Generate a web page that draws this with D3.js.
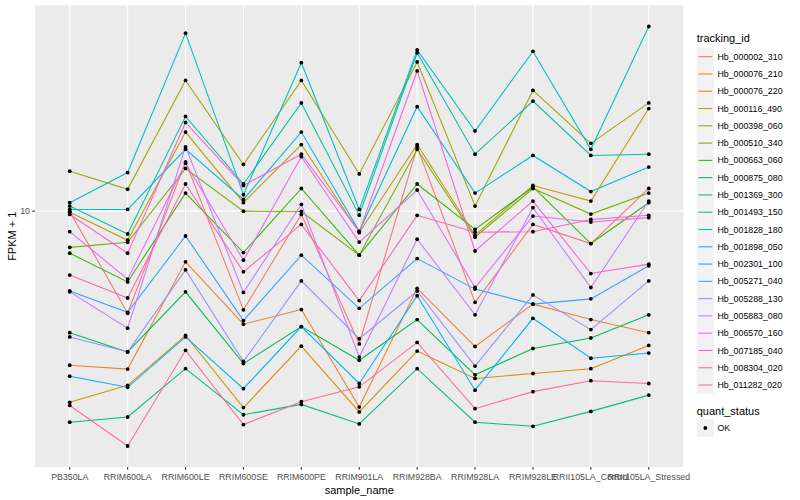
<!DOCTYPE html>
<html>
<head>
<meta charset="utf-8">
<script src="https://cdn.jsdelivr.net/npm/d3@7/dist/d3.min.js"></script>
<style>
  body { margin: 0; background: #ffffff; }
  text { font-family: "Liberation Sans", Arial, sans-serif; }
</style>
</head>
<body>
<svg id="chart" width="800" height="500"></svg>
<script>
/// samples on the x axis
var sampleNames = ["PB350LA", "RRIM600LA", "RRIM600LE", "RRIM600SE", "RRIM600PE",
                   "RRIM901LA", "RRIM928BA", "RRIM928LA", "RRIM928LE",
                   "RRII105LA_Control", "RRII105LA_Stressed"];

/// tracking ids, legend order
var trackingIds = ["Hb_000002_310", "Hb_000076_210", "Hb_000076_220", "Hb_000116_490",
                   "Hb_000398_060", "Hb_000510_340", "Hb_000663_060", "Hb_000875_080",
                   "Hb_001369_300", "Hb_001493_150", "Hb_001828_180", "Hb_001898_050",
                   "Hb_002301_100", "Hb_005271_040", "Hb_005288_130", "Hb_005883_080",
                   "Hb_006570_160", "Hb_007185_040", "Hb_008304_020", "Hb_011282_020"];

/// FPKM + 1 for every sample
var hb_000002_310 = [9.98, 5.54, 13.3, 5.65, 9.81, 4.64, 14.5, 5.90, 9.26, 8.29, 11.4];
var hb_000076_210 = [4.10, 4.01, 7.46, 5.20, 5.66, 3.22, 6.40, 4.57, 5.84, 5.34, 4.95];
var hb_000076_220 = [3.31, 3.65, 4.87, 3.21, 4.58, 3.13, 4.45, 3.80, 3.91, 4.02, 4.60];
var hb_000116_490 = [9.93, 8.45, 15.8, 10.5, 14.7, 8.83, 14.7, 8.70, 11.6, 10.6, 18.1];
var hb_000398_060 = [12.6, 11.35, 21.3, 13.1, 21.3, 12.4, 23.7, 10.3, 20.1, 14.8, 18.7];
var hb_000510_340 = [8.11, 8.35, 12.8, 10.0, 9.98, 7.75, 14.3, 8.60, 11.4, 9.83, 11.1];
var hb_000663_060 = [7.84, 6.64, 11.1, 7.87, 11.4, 7.75, 11.7, 9.00, 11.5, 8.29, 10.5];
var hb_000875_080 = [4.95, 4.43, 6.27, 4.14, 5.13, 4.22, 5.34, 3.88, 4.52, 4.80, 5.49];
var hb_001369_300 = [2.95, 3.04, 4.02, 3.08, 3.27, 2.92, 4.02, 2.95, 2.88, 3.14, 3.45];
var hb_001493_150 = [10.3, 8.76, 17.3, 11.7, 18.7, 9.77, 25.0, 13.9, 18.9, 13.8, 13.9];
var hb_001828_180 = [10.5, 12.5, 28.0, 11.0, 23.6, 10.1, 25.4, 15.9, 25.2, 14.3, 29.1];
var hb_001898_050 = [10.1, 10.1, 14.3, 10.7, 15.8, 8.90, 18.3, 11.1, 13.8, 11.2, 12.9];
var hb_002301_100 = [3.85, 3.61, 4.83, 3.58, 5.13, 3.69, 6.13, 3.55, 5.38, 4.27, 4.40];
var hb_005271_040 = [6.30, 5.57, 8.66, 5.31, 7.75, 5.70, 7.60, 6.37, 5.84, 6.02, 7.29];
var hb_005288_130 = [4.83, 4.43, 7.12, 4.19, 6.68, 4.78, 6.30, 4.08, 6.16, 5.04, 6.68];
var hb_005883_080 = [6.27, 5.08, 14.5, 6.25, 10.4, 4.30, 8.50, 5.49, 10.2, 6.43, 10.6];
var hb_006570_160 = [8.88, 6.75, 13.2, 7.53, 13.7, 8.36, 11.3, 6.43, 9.72, 9.39, 9.63];
var hb_007185_040 = [9.81, 7.84, 16.7, 11.6, 13.9, 8.88, 22.5, 7.94, 10.6, 6.97, 7.36];
var hb_008304_020 = [6.91, 6.05, 11.7, 7.04, 9.26, 5.96, 9.76, 8.85, 8.88, 9.53, 9.76];
var hb_011282_020 = [3.25, 2.57, 4.47, 2.91, 3.32, 3.62, 4.68, 3.19, 3.52, 3.75, 3.69];

var seriesValues = [hb_000002_310, hb_000076_210, hb_000076_220, hb_000116_490,
                    hb_000398_060, hb_000510_340, hb_000663_060, hb_000875_080,
                    hb_001369_300, hb_001493_150, hb_001828_180, hb_001898_050,
                    hb_002301_100, hb_005271_040, hb_005288_130, hb_005883_080,
                    hb_006570_160, hb_007185_040, hb_008304_020, hb_011282_020];

var yTicks = [10];
var quantStatus = ["OK"];

/// ggplot default hue palette, 20 levels
var palette = ["#F8766D", "#EA8331", "#D89000", "#C09B00", "#A3A500", "#7CAE00",
               "#39B600", "#00BB4E", "#00BF7D", "#00C1A3", "#00BFC4", "#00BAE0",
               "#00B0F6", "#35A2FF", "#9590FF", "#C77CFF", "#E76BF3", "#FA62DB",
               "#FF62BC", "#FF6C91"];

/// build long table
var series = trackingIds.map((id, i) => ({
  id: id,
  color: palette[i],
  values: sampleNames.map((s, j) => ({sample: s, value: seriesValues[i][j]}))
}));
var allValues = d3.merge(seriesValues);

/// panel dimensions
var panel = {left: 35, right: 683.5, top: 5.5, bottom: 467};

var svg = d3.select("#chart");

var x = d3.scalePoint()
          .domain(sampleNames)
          .range([panel.left, panel.right])
          .padding(0.6);

// 5% expansion on log scale like ggplot
var ext = d3.extent(allValues).map(Math.log10);
var pad = (ext[1] - ext[0]) * 0.05;
var y = d3.scaleLog()
          .domain([Math.pow(10, ext[0] - pad), Math.pow(10, ext[1] + pad)])
          .range([panel.bottom, panel.top]);

// panel background
svg.append("rect")
   .attr("x", panel.left)
   .attr("y", panel.top)
   .attr("width", panel.right - panel.left)
   .attr("height", panel.bottom - panel.top)
   .style("fill", "#EBEBEB");

// grid
svg.selectAll(".gridX")
   .data(sampleNames)
   .enter()
   .append("line")
   .attr("class", "gridX")
   .attr("x1", d => x(d))
   .attr("x2", d => x(d))
   .attr("y1", panel.top)
   .attr("y2", panel.bottom)
   .style("stroke", "#ffffff")
   .style("stroke-width", 1.07);

svg.selectAll(".gridY")
   .data(yTicks)
   .enter()
   .append("line")
   .attr("class", "gridY")
   .attr("x1", panel.left)
   .attr("x2", panel.right)
   .attr("y1", d => y(d))
   .attr("y2", d => y(d))
   .style("stroke", "#ffffff")
   .style("stroke-width", 1.07);

// lines
var line = d3.line()
             .x(d => x(d.sample))
             .y(d => y(d.value));

svg.selectAll(".seriesLine")
   .data(series)
   .enter()
   .append("path")
   .attr("class", "seriesLine")
   .attr("d", d => line(d.values))
   .style("fill", "none")
   .style("stroke", d => d.color)
   .style("stroke-width", 1.07);

// points
svg.selectAll(".seriesPoint")
   .data(d3.merge(series.map(s => s.values)))
   .enter()
   .append("circle")
   .attr("class", "seriesPoint")
   .attr("cx", d => x(d.sample))
   .attr("cy", d => y(d.value))
   .attr("r", 1.9)
   .style("fill", "#000000");

// y axis
svg.selectAll(".yTick")
   .data(yTicks)
   .enter()
   .append("line")
   .attr("x1", panel.left - 2.75)
   .attr("x2", panel.left)
   .attr("y1", d => y(d))
   .attr("y2", d => y(d))
   .style("stroke", "#333333")
   .style("stroke-width", 1.07);

svg.selectAll(".yLabel")
   .data(yTicks)
   .enter()
   .append("text")
   .attr("x", panel.left - 5)
   .attr("y", d => y(d))
   .attr("dy", "0.35em")
   .attr("text-anchor", "end")
   .style("font-size", "8.8px")
   .style("fill", "#4D4D4D")
   .text(d => d);

// x axis
svg.selectAll(".xTick")
   .data(sampleNames)
   .enter()
   .append("line")
   .attr("x1", d => x(d))
   .attr("x2", d => x(d))
   .attr("y1", panel.bottom)
   .attr("y2", panel.bottom + 2.75)
   .style("stroke", "#333333")
   .style("stroke-width", 1.07);

svg.selectAll(".xLabel")
   .data(sampleNames)
   .enter()
   .append("text")
   .attr("x", d => x(d))
   .attr("y", panel.bottom + 12.5)
   .attr("text-anchor", "middle")
   .style("font-size", "8.8px")
   .style("fill", "#4D4D4D")
   .text(d => d);

// axis titles
svg.append("text")
   .attr("x", (panel.left + panel.right) / 2)
   .attr("y", 494)
   .attr("text-anchor", "middle")
   .style("font-size", "11px")
   .style("fill", "#000000")
   .text("sample_name");

svg.append("text")
   .attr("transform", "translate(15.5," + ((panel.top + panel.bottom) / 2) + ") rotate(-90)")
   .attr("text-anchor", "middle")
   .style("font-size", "11px")
   .style("fill", "#000000")
   .text("FPKM + 1");

// legend: tracking_id
var keySize = 17.28, legendX = 696.7, firstKey = 56.7;

var LEGEND_G = svg.append("g").attr("class", "LEGEND_G");

LEGEND_G.append("text")
        .attr("x", legendX)
        .attr("y", 42)
        .style("font-size", "11px")
        .text("tracking_id");

var keys = LEGEND_G.selectAll(".key")
                   .data(series)
                   .enter()
                   .append("g")
                   .attr("class", "key")
                   .attr("transform", (d, i) => "translate(" + legendX + "," + (firstKey + i * keySize) + ")");

keys.append("rect")
    .attr("x", 0)
    .attr("y", -keySize / 2)
    .attr("width", keySize)
    .attr("height", keySize)
    .style("fill", "#F2F2F2");

keys.append("line")
    .attr("x1", 1.7)
    .attr("x2", keySize - 1.7)
    .attr("y1", 0)
    .attr("y2", 0)
    .style("stroke", d => d.color)
    .style("stroke-width", 1.07);

keys.append("text")
    .attr("x", keySize + 3.5)
    .attr("y", 0)
    .attr("dy", "0.35em")
    .style("font-size", "8.8px")
    .text(d => d.id);

// legend: quant_status
LEGEND_G.append("text")
        .attr("x", legendX)
        .attr("y", 414.5)
        .style("font-size", "11px")
        .text("quant_status");

var qKeys = LEGEND_G.selectAll(".qkey")
                    .data(quantStatus)
                    .enter()
                    .append("g")
                    .attr("class", "qkey")
                    .attr("transform", (d, i) => "translate(" + legendX + "," + (428 + i * keySize) + ")");

qKeys.append("rect")
     .attr("x", 0)
     .attr("y", -keySize / 2)
     .attr("width", keySize)
     .attr("height", keySize)
     .style("fill", "#F2F2F2");

qKeys.append("circle")
     .attr("cx", keySize / 2)
     .attr("cy", 0)
     .attr("r", 1.9)
     .style("fill", "#000000");

qKeys.append("text")
     .attr("x", keySize + 3.5)
     .attr("y", 0)
     .attr("dy", "0.35em")
     .style("font-size", "8.8px")
     .text(d => d);
</script>
</body>
</html>
